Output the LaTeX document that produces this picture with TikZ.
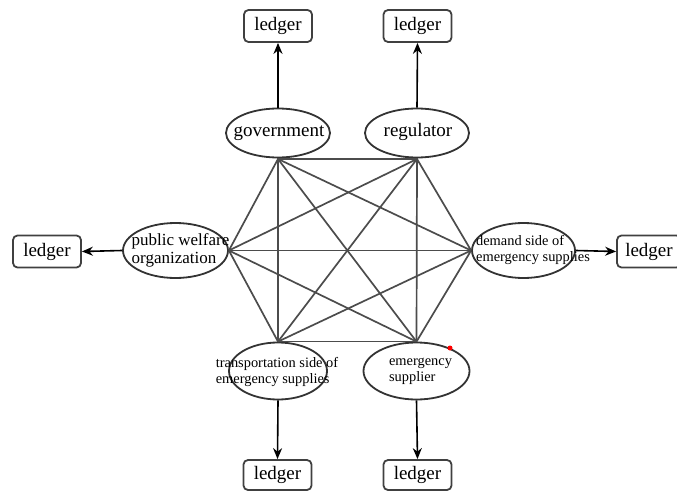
\documentclass[tikz,border=0pt]{standalone}
\usepackage{fontspec}
\setmainfont{Liberation Serif}
\usetikzlibrary{shapes.geometric,arrows.meta}
\begin{document}
\begin{tikzpicture}[x=1pt,y=-1pt,
  ell/.style={draw=black!80, line width=1.8pt, ellipse, inner sep=0pt},
  ledgerbox/.style={draw=black!75, line width=1.8pt, rounded corners=4.5pt, inner sep=0pt,
    minimum width=68pt, minimum height=32pt, font=\fontsize{19}{19}\selectfont},
  bigtxt/.style={inner sep=0pt, font=\fontsize{19}{19}\selectfont, anchor=base},
  midtxt/.style={inner sep=0pt, align=left, font=\fontsize{17}{18}\selectfont},
  smalltxt/.style={inner sep=0pt, align=left, font=\fontsize{14.4}{16.5}\selectfont},
  edge/.style={draw=black!70, line width=1.7pt},
  arr/.style={draw=black, line width=1.6pt, -{Stealth[length=11pt,width=9pt]}}]
\useasboundingbox (0,0) rectangle (677,492);

% ellipses
\node[ell, minimum width=104pt, minimum height=49pt] (gov) at (278,133) {};
\node[ell, minimum width=104pt, minimum height=49pt] (reg) at (417,133) {};
\node[ell, minimum width=105pt, minimum height=55pt] (pub) at (175.5,250.5) {};
\node[ell, minimum width=103pt, minimum height=55pt] (dem) at (523.5,250.5) {};
\node[ell, minimum width=98pt, minimum height=57pt] (tra) at (278,371) {};
\node[ell, minimum width=106pt, minimum height=57pt] (sup) at (416.5,371) {};

% vertices of the network
\coordinate (vg) at (278,159);
\coordinate (vr) at (417,159);
\coordinate (vp) at (pub.east);
\coordinate (vd) at (dem.west);
\coordinate (vt) at (tra.north);
\coordinate (ve) at (sup.north);

% complete graph
\foreach \a/\b in {vg/vr,vg/vp,vg/vd,vg/vt,vg/ve,vr/vp,vr/vd,vr/vt,vr/ve,vp/vd,vp/vt,vp/ve,vd/vt,vd/ve,vt/ve}
  \draw[edge] (\a) -- (\b);
\draw[edge] (gov.south) -- (vg);
\draw[edge] (reg.south) -- (vr);

% texts
\node[bigtxt] (govt) at (279,136) {government};
\node[bigtxt] (regt) at (418,137) {regulator};
\node[midtxt] (pubt) at (180.5,250) {public welfare\\organization};
\node[smalltxt] (demt) at (533,250) {demand side of\\emergency supplies};
\node[smalltxt] (trat) at (277,372) {transportation side of\\emergency supplies};
\node[smalltxt] (supt) at (420.5,371.5) {emergency\\supplier};

% ledgers
\node[ledgerbox] (l1) at (278,26) {ledger};
\node[ledgerbox] (l2) at (417.5,26) {ledger};
\node[ledgerbox] (l3) at (47,251.5) {ledger};
\node[ledgerbox, minimum width=64pt] (l4) at (649,251.5) {ledger};
\node[ledgerbox, minimum height=30pt] (l5) at (277.5,475) {ledger};
\node[ledgerbox, minimum height=30pt] (l6) at (417.5,475) {ledger};

% arrows
\draw[arr] (gov.north) -- (l1.south);
\draw[arr] (reg.north) -- (l2.south);
\draw[arr] (pub.west) -- (l3.east);
\draw[arr] (dem.east) -- (l4.west);
\draw[arr] (tra.south) -- (l5.north);
\draw[arr] (sup.south) -- (l6.north);

% small red mark
\fill[red] (450,348) circle (2.5pt);
\end{tikzpicture}
\end{document}
